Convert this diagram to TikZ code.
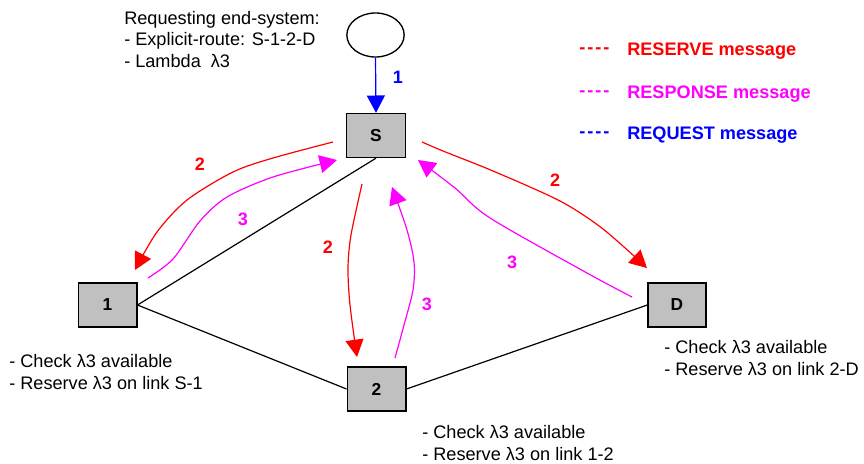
\documentclass[tikz,border=0pt]{standalone}
\usepackage{fontspec}
\setmainfont{Liberation Sans}
\usetikzlibrary{arrows.meta,shapes.geometric}
\definecolor{boxgray}{RGB}{192,192,192}
\definecolor{resv}{RGB}{255,0,0}
\definecolor{resp}{RGB}{255,0,255}
\definecolor{reqs}{RGB}{0,0,255}
\begin{document}
\begin{tikzpicture}[x=0.75pt,y=-0.75pt,
  router/.style={draw=black,line width=1pt,fill=boxgray,minimum width=44pt,minimum height=33pt,inner sep=0pt,font=\fontsize{13}{15}\selectfont\bfseries},
  link/.style={draw=black,line width=0.9pt},
  msg/.style={line width=0.9pt,-{Triangle[length=13pt,width=13.5pt]}},
  num/.style={font=\fontsize{13.5}{15}\selectfont\bfseries,inner sep=0pt},
  note/.style={align=left,anchor=west,inner sep=0pt,font=\fontsize{13.6}{16}\selectfont},
  legend/.style={anchor=west,inner sep=0pt,font=\fontsize{13.6}{16}\selectfont\bfseries}]
\useasboundingbox (0,0) rectangle (864,464);

% end system and routers
\node[draw=black,line width=1pt,ellipse,minimum width=43pt,minimum height=33pt,inner sep=0pt] (es) at (375.5,35) {};
\node[router] (S) at (376,135.5) {S};
\node[router] (n1) at (107.5,305) {1};
\node[router] (n2) at (376.5,389) {2};
\node[router,minimum width=43.5pt] (D) at (677,305) {D};

% physical links
\draw[link] (S.south) -- (n1.east);
\draw[link] (n1.east) -- (n2.west);
\draw[link] (n2.east) -- (D.west);

% request from the end system
\draw[msg,reqs] (es.south) -- (S.north);
\node[num,text=reqs] (l1) at (398,77) {1};

% reserve messages
\coordinate (r1a) at (333,142);
\coordinate (r1b) at (135,270);
\draw[msg,resv] plot[smooth] coordinates {(r1a) (273,158) (233,172) (187,200) (157,232) (r1b)};
\coordinate (r2a) at (362,184);
\coordinate (r2b) at (357,357);
\draw[msg,resv] plot[smooth] coordinates {(r2a) (351,235) (348,268) (350,305) (r2b)};
\coordinate (r3a) at (422,142);
\coordinate (r3b) at (647,268);
\draw[msg,resv] plot[smooth] coordinates {(r3a) (443,151) (493,171) (560,201) (603,229) (r3b)};
\node[num,text=resv] (l2a) at (200,164) {2};
\node[num,text=resv] (l2b) at (328,247) {2};
\node[num,text=resv] (l2c) at (555,180) {2};

% response messages
\coordinate (m1a) at (148,278);
\coordinate (m1b) at (337,160);
\draw[msg,resp] plot[smooth] coordinates {(m1a) (173,259) (200,221) (227,197) (273,177) (m1b)};
\coordinate (m2a) at (395,358);
\coordinate (m2b) at (392,187);
\draw[msg,resp] plot[smooth] coordinates {(m2a) (404,325) (413,290) (414,262) (407,230) (m2b)};
\coordinate (m3a) at (632,297);
\coordinate (m3b) at (418,160);
\draw[msg,resp] plot[smooth] coordinates {(m3a) (587,273) (490,218) (455,188) (m3b)};
\node[num,text=resp] (l3a) at (243,219) {3};
\node[num,text=resp] (l3b) at (427,304) {3};
\node[num,text=resp] (l3c) at (512,262) {3};

% annotations
\node[note,anchor=north west] (req) at (124,11) {Requesting end-system:\\- Explicit-route: S-1-2-D\\- Lambda\ \ λ3};
\node[note] (t1) at (9,372) {- Check λ3 available\\- Reserve λ3 on link S-1};
\node[note] (t2) at (422,443) {- Check λ3 available\\- Reserve λ3 on link 1-2};
\node[note] (tD) at (664,358) {- Check λ3 available\\- Reserve λ3 on link 2-D};

% legend
\node[legend,text=resv] (k1) at (579,51) {-\kern1.5pt-\kern1.5pt-\kern1.5pt-};
\node[legend,text=resv] (k1t) at (627,51) {RESERVE message};
\node[legend,text=resp] (k2) at (579,94) {-\kern1.5pt-\kern1.5pt-\kern1.5pt-};
\node[legend,text=resp] (k2t) at (627,94) {RESPONSE message};
\node[legend,text=reqs] (k3) at (579,135) {-\kern1.5pt-\kern1.5pt-\kern1.5pt-};
\node[legend,text=reqs] (k3t) at (627,135) {REQUEST message};
\end{tikzpicture}
\end{document}
